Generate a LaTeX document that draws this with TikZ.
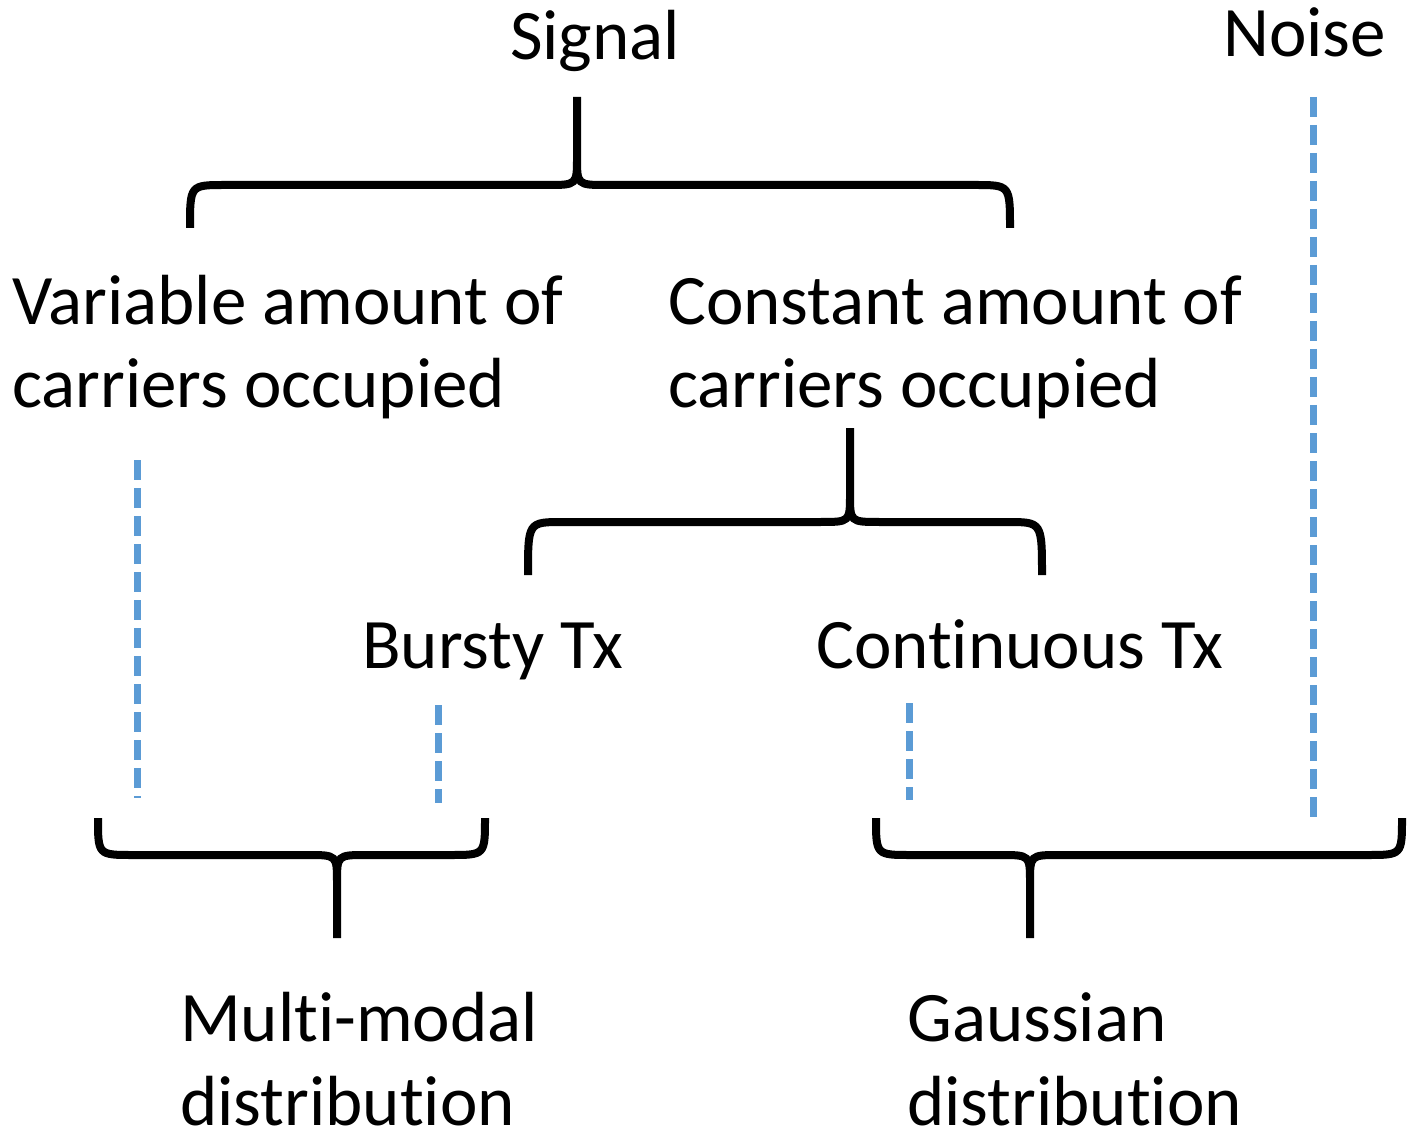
\documentclass[tikz,border=0pt]{standalone}
\usepackage{fontspec}
\setmainfont{Carlito}[Ligatures=NoCommon]
\definecolor{dashblue}{RGB}{91,155,213}
\newcommand\mybrace[7]{% L R cx h e t s
  \draw[brace] (#1,-#5) .. controls (#1,-#4) .. (#1+35,-#4) -- (#3-30,-#4)
    .. controls (#3,-#4) .. (#3,-#4+#7) -- (#3,-#6)
    (#3,-#4+#7) .. controls (#3,-#4) .. (#3+30,-#4) -- (#2-35,-#4)
    .. controls (#2,-#4) .. (#2,-#5);}
\begin{document}
\begin{tikzpicture}[x=1pt,y=1pt,
  brace/.style={line width=8pt,black},
  dl/.style={line width=7pt,dashblue,dash pattern=on 20pt off 8pt},
  lbl/.style={anchor=base west,inner sep=0pt,align=left,font=\fontsize{71}{84}\selectfont}]
\useasboundingbox (0,0) rectangle (1419,-1147);
\node[lbl,anchor=base] (sig) at (595,-60) {Signal};
\node[lbl] (noise) at (1223,-57) {Noise};
\node[lbl] (var) at (12,-408) {Variable amount of\\carriers occupied};
\node[lbl] (con) at (668,-408) {Constant amount of\\carriers occupied};
\node[lbl] (bur) at (362,-668) {Bursty Tx};
\node[lbl] (cont) at (816,-668) {Continuous Tx};
\node[lbl] (mm) at (180,-1125) {Multi-modal\\distribution};
\node[lbl] (ga) at (907,-1125) {Gaussian\\distribution};
\mybrace{190}{1010}{577}{185}{228}{97}{28}
\mybrace{528}{1042}{850}{522}{575}{428}{28}
\mybrace{98}{485}{337}{855}{818}{938}{-28}
\mybrace{876}{1402}{1030}{855}{818}{938}{-28}
\coordinate (a1) at (137,-460); \coordinate (a2) at (137,-798);
\coordinate (b1) at (438,-705); \coordinate (b2) at (438,-803);
\coordinate (c1) at (909,-703); \coordinate (c2) at (909,-800);
\coordinate (d1) at (1313,-97); \coordinate (d2) at (1313,-820);
\draw[dl] (a1) -- (a2);
\draw[dl] (b1) -- (b2);
\draw[dl] (c1) -- (c2);
\draw[dl] (d1) -- (d2);
\end{tikzpicture}
\end{document}
